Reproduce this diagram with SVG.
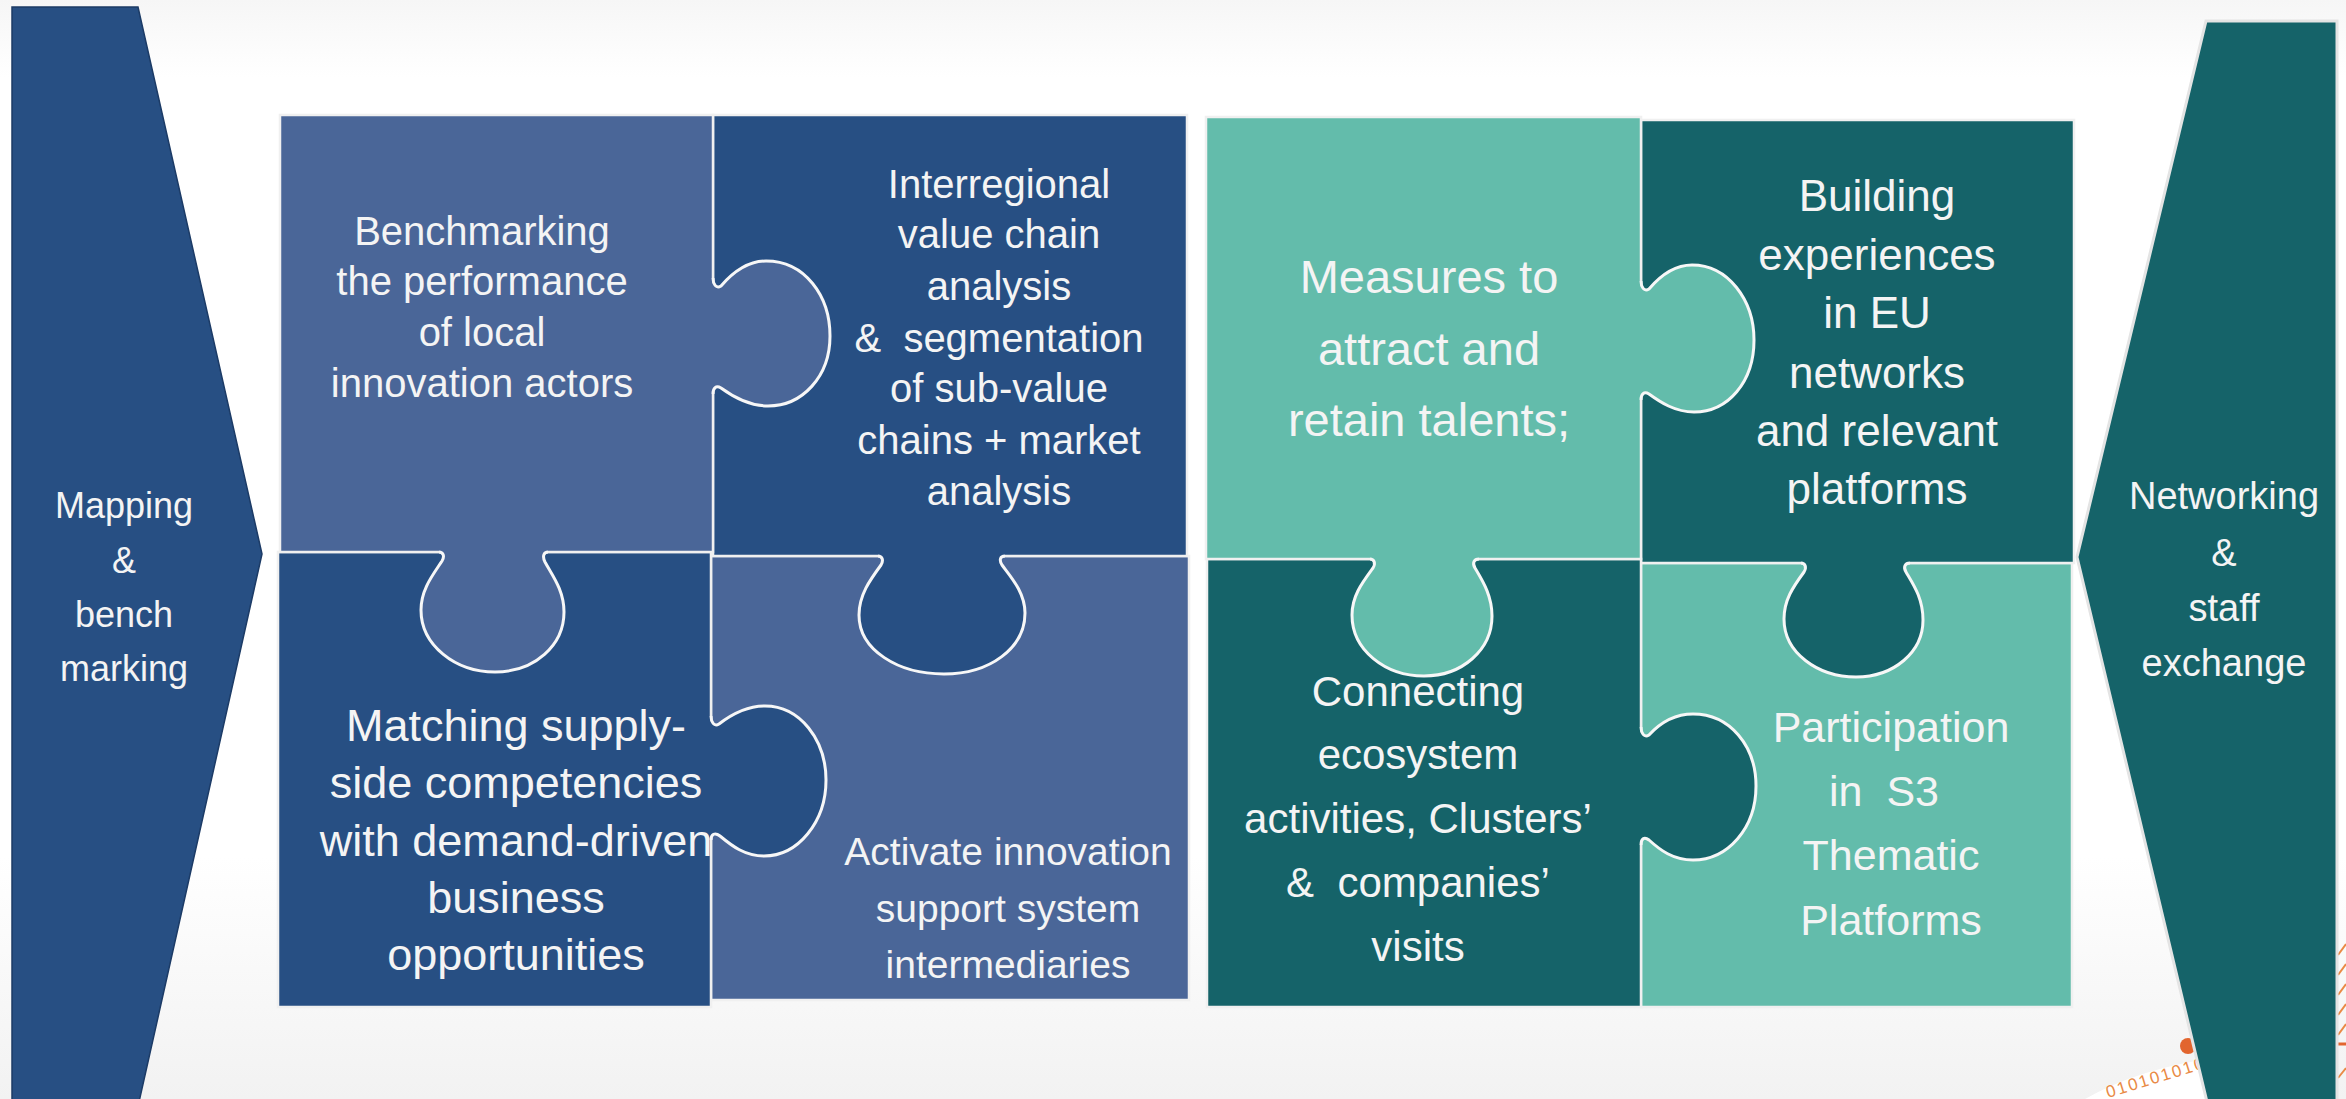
<svg xmlns="http://www.w3.org/2000/svg" width="2346" height="1099" viewBox="0 0 2346 1099">
<defs>
<linearGradient id="bg" x1="0" y1="0" x2="0" y2="1">
<stop offset="0" stop-color="#f6f6f6"/>
<stop offset="0.07" stop-color="#ffffff"/>
<stop offset="0.78" stop-color="#ffffff"/>
<stop offset="1" stop-color="#f2f2f2"/>
</linearGradient>
<style>
.lb{fill:#4A6698}
.db{fill:#274F83}
.lt{fill:#63BCAB}
.dt{fill:#156369}
.pc{stroke:#f0f0f0;stroke-width:2.5}
.ko{fill:none;stroke:#f7f7f7;stroke-width:3;stroke-linejoin:round}
.t{font-family:"Liberation Sans",Arial,sans-serif;fill:#f4f4f4;text-anchor:middle;white-space:pre}
</style>
</defs>
<rect x="0" y="0" width="2346" height="1099" fill="url(#bg)"/>

<g id="decoration">
<path d="M2085,1099 Q2140,1068 2215,1058 L2215,1099 Z" fill="#ffffff"/>
<circle cx="2188" cy="1046" r="8" fill="#E2652E"/>
<text x="2108" y="1098" font-family="Liberation Sans,Arial,sans-serif" font-size="17" letter-spacing="2" fill="#E98A45" transform="rotate(-17 2108 1098)">0101010101</text>
<g stroke="#E98A45" stroke-width="2">
<line x1="2338" y1="955" x2="2346" y2="944"/>
<line x1="2338" y1="975" x2="2346" y2="964"/>
<line x1="2338" y1="995" x2="2346" y2="984"/>
<line x1="2338" y1="1015" x2="2346" y2="1004"/>
<line x1="2338" y1="1035" x2="2346" y2="1024"/>
<line x1="2338" y1="1078" x2="2346" y2="1068"/>
</g>
<line x1="2338" y1="1044" x2="2346" y2="1044" stroke="#E2652E" stroke-width="3"/>
</g>

<g id="mapping">
<polygon points="12,7 138,7 262,554 139,1102 12,1102" fill="#274F83" stroke="#1c3b66" stroke-width="1.5"/>
<text class="t" font-size="36"><tspan x="124" y="518">Mapping</tspan><tspan x="124" y="573">&amp;</tspan><tspan x="124" y="627">bench</tspan><tspan x="124" y="681">marking</tspan></text>
</g>

<g id="networking">
<polygon points="2206,21 2337,21 2337,1102 2207,1102 2077,557" fill="#156369" stroke="#e4e4e4" stroke-width="3"/>
<text class="t" font-size="38"><tspan x="2224" y="509">Networking</tspan><tspan x="2224" y="566">&amp;</tspan><tspan x="2224" y="621">staff</tspan><tspan x="2224" y="676">exchange</tspan></text>
</g>

<g id="activate">
<rect x="711" y="556" width="478" height="444" class="lb pc"/>
<text class="t" font-size="39"><tspan x="1008" y="865">Activate innovation</tspan><tspan x="1008" y="922">support system</tspan><tspan x="1008" y="978">intermediaries</tspan></text>
</g>

<g id="interregional">
<rect x="713" y="115" width="474" height="441" class="db pc"/>
<path class="db" d="M878,556 C882,556 884,560 881,565 C870,580 859,595 859,615 C859,650 898,674 944,674 C990,674 1025,648 1025,613 C1025,592 1010,576 1002,565 C999,560 1000,556 1005,556 L1005,549 L878,549 Z"/>
<path class="ko" d="M878,556 C882,556 884,560 881,565 C870,580 859,595 859,615 C859,650 898,674 944,674 C990,674 1025,648 1025,613 C1025,592 1010,576 1002,565 C999,560 1000,556 1005,556"/>
<text class="t" font-size="40"><tspan x="999" y="198">Interregional</tspan><tspan x="999" y="248">value chain</tspan><tspan x="999" y="300">analysis</tspan><tspan x="999" y="352">&amp;  segmentation</tspan><tspan x="999" y="402">of sub-value</tspan><tspan x="999" y="454">chains + market</tspan><tspan x="999" y="505">analysis</tspan></text>
</g>

<g id="matching">
<rect x="278" y="552" width="433" height="455" class="db pc"/>
<path class="db" d="M711,716 C711,722 714,727 719,724 C732,714 747,706 765,706 C800,706 826,740 826,780 C826,822 798,856 764,856 C745,856 732,846 720,836 C715,832 711,834 711,840 L704,840 L704,716 Z"/>
<path class="ko" d="M711,716 C711,722 714,727 719,724 C732,714 747,706 765,706 C800,706 826,740 826,780 C826,822 798,856 764,856 C745,856 732,846 720,836 C715,832 711,834 711,840"/>
<text class="t" font-size="45"><tspan x="516" y="741">Matching supply-</tspan><tspan x="516" y="798">side competencies</tspan><tspan x="516" y="856">with demand-driven</tspan><tspan x="516" y="913">business</tspan><tspan x="516" y="970">opportunities</tspan></text>
</g>

<g id="benchmarking">
<rect x="280" y="115" width="433" height="437" class="lb pc"/>
<path class="lb" d="M713,278 C713,284 716,289 721,286 C733,272 748,261 766,261 C805,261 830,296 830,336 C830,377 802,406 768,406 C748,406 732,396 721,388 C716,385 713,388 713,394 L706,394 L706,278 Z"/>
<path class="ko" d="M713,278 C713,284 716,289 721,286 C733,272 748,261 766,261 C805,261 830,296 830,336 C830,377 802,406 768,406 C748,406 732,396 721,388 C716,385 713,388 713,394"/>
<path class="lb" d="M439,552 C443,552 445,556 442,561 C432,576 421,590 421,610 C421,645 455,672 495,672 C535,672 564,645 564,612 C564,590 552,575 545,562 C542,556 544,552 548,552 L548,545 L439,545 Z"/>
<path class="ko" d="M439,552 C443,552 445,556 442,561 C432,576 421,590 421,610 C421,645 455,672 495,672 C535,672 564,645 564,612 C564,590 552,575 545,562 C542,556 544,552 548,552"/>
<text class="t" font-size="40"><tspan x="482" y="245">Benchmarking</tspan><tspan x="482" y="295">the performance</tspan><tspan x="482" y="346">of local</tspan><tspan x="482" y="397">innovation actors</tspan></text>
</g>

<g id="participation">
<rect x="1641" y="563" width="431" height="444" class="lt pc"/>
<text class="t" font-size="43"><tspan x="1891" y="742">Participation</tspan><tspan x="1884" y="806">in  S3</tspan><tspan x="1891" y="870">Thematic</tspan><tspan x="1891" y="935">Platforms</tspan></text>
</g>

<g id="building">
<rect x="1641" y="120" width="433" height="443" class="dt pc"/>
<path class="dt" d="M1801,563 C1805,563 1807,567 1804,572 C1793,587 1784,600 1784,619 C1784,653 1818,677 1856,677 C1894,677 1923,652 1923,620 C1923,598 1913,584 1906,572 C1903,567 1905,563 1910,563 L1910,556 L1801,556 Z"/>
<path class="ko" d="M1801,563 C1805,563 1807,567 1804,572 C1793,587 1784,600 1784,619 C1784,653 1818,677 1856,677 C1894,677 1923,652 1923,620 C1923,598 1913,584 1906,572 C1903,567 1905,563 1910,563"/>
<text class="t" font-size="44"><tspan x="1877" y="211">Building</tspan><tspan x="1877" y="270">experiences</tspan><tspan x="1877" y="328">in EU</tspan><tspan x="1877" y="388">networks</tspan><tspan x="1877" y="446">and relevant</tspan><tspan x="1877" y="504">platforms</tspan></text>
</g>

<g id="connecting">
<rect x="1207" y="559" width="434" height="448" class="dt pc"/>
<path class="dt" d="M1641,727 C1641,733 1644,738 1649,735 C1660,723 1675,714 1693,714 C1730,714 1756,746 1756,786 C1756,828 1728,860 1693,860 C1673,860 1660,850 1649,840 C1644,836 1641,839 1641,845 L1634,845 L1634,727 Z"/>
<path class="ko" d="M1641,727 C1641,733 1644,738 1649,735 C1660,723 1675,714 1693,714 C1730,714 1756,746 1756,786 C1756,828 1728,860 1693,860 C1673,860 1660,850 1649,840 C1644,836 1641,839 1641,845"/>
<text class="t" font-size="42"><tspan x="1418" y="706">Connecting</tspan><tspan x="1418" y="769">ecosystem</tspan><tspan x="1418" y="833">activities, Clusters’</tspan><tspan x="1418" y="897">&amp;  companies’</tspan><tspan x="1418" y="961">visits</tspan></text>
</g>

<g id="measures">
<rect x="1206" y="117" width="435" height="442" class="lt pc"/>
<path class="lt" d="M1641,281 C1641,287 1644,292 1649,289 C1660,276 1674,265 1692,265 C1728,265 1754,300 1754,340 C1754,382 1728,412 1694,412 C1675,412 1660,402 1649,394 C1644,391 1641,394 1641,400 L1634,400 L1634,281 Z"/>
<path class="ko" d="M1641,281 C1641,287 1644,292 1649,289 C1660,276 1674,265 1692,265 C1728,265 1754,300 1754,340 C1754,382 1728,412 1694,412 C1675,412 1660,402 1649,394 C1644,391 1641,394 1641,400"/>
<path class="lt" d="M1370,559 C1374,559 1376,563 1373,568 C1362,583 1352,596 1352,615 C1352,650 1385,676 1424,676 C1462,676 1492,650 1492,616 C1492,595 1482,580 1475,568 C1472,563 1474,559 1479,559 L1479,552 L1370,552 Z"/>
<path class="ko" d="M1370,559 C1374,559 1376,563 1373,568 C1362,583 1352,596 1352,615 C1352,650 1385,676 1424,676 C1462,676 1492,650 1492,616 C1492,595 1482,580 1475,568 C1472,563 1474,559 1479,559"/>
<text class="t" font-size="47"><tspan x="1429" y="293">Measures to</tspan><tspan x="1429" y="365">attract and</tspan><tspan x="1429" y="436">retain talents;</tspan></text>
</g>

<g id="connectors"/>
</svg>
